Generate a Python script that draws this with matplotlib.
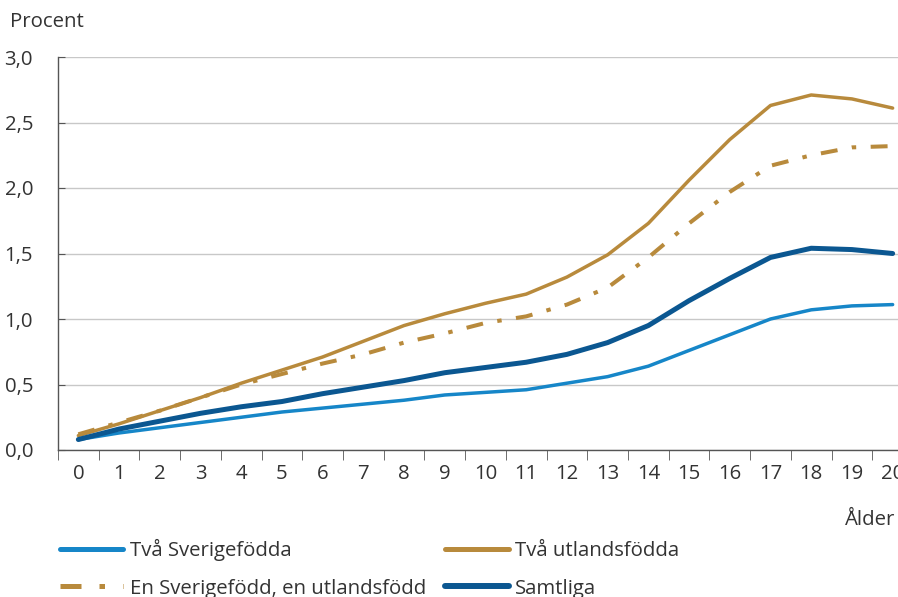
import numpy as np
from matplotlib import pyplot as plt
from matplotlib.ticker import FixedLocator, MultipleLocator, FuncFormatter

plt.rcParams["font.family"] = ["Open Sans", "DejaVu Sans"]
plt.rcParams["font.size"] = 14.7

alder = list(range(21))
tva_sverigefodda = [0.08, 0.13, 0.17, 0.21, 0.25, 0.29, 0.32, 0.35, 0.38, 0.42, 0.44,
                    0.46, 0.51, 0.56, 0.64, 0.76, 0.88, 1.00, 1.07, 1.10, 1.11]
tva_utlandsfodda = [0.11, 0.20, 0.30, 0.40, 0.51, 0.61, 0.71, 0.83, 0.95, 1.04, 1.12,
                    1.19, 1.32, 1.49, 1.73, 2.06, 2.37, 2.63, 2.71, 2.68, 2.61]
en_sverigefodd = [0.12, 0.21, 0.30, 0.40, 0.50, 0.58, 0.66, 0.73, 0.82, 0.89, 0.97,
                  1.02, 1.11, 1.24, 1.47, 1.73, 1.97, 2.17, 2.25, 2.31, 2.32]
samtliga = [0.08, 0.16, 0.22, 0.28, 0.33, 0.37, 0.43, 0.48, 0.53, 0.59, 0.63,
            0.67, 0.73, 0.82, 0.95, 1.14, 1.31, 1.47, 1.54, 1.53, 1.50]

ljusbla = "#1686c8"
guld = "#b88a3c"
morkbla = "#0b5791"
text_farg = "#333333"

fig = plt.figure(figsize=(8.98, 5.97), dpi=100)
# axeln går förbi bildens högerkant (som i originalet)
ax = fig.add_axes([58/898, 1-450/597, 855/898, 393/597])

ax.plot(alder, tva_sverigefodda, color=ljusbla, lw=2.5, solid_capstyle="round",
        label="Två Sverigefödda")
l2, = ax.plot(alder, en_sverigefodd, color=guld, lw=2.9, linestyle="-.",
              label="En Sverigefödd, en utlandsfödd")
l2.set_dashes((4.2, 3.6, 1.1, 3.6))
ax.plot(alder, tva_utlandsfodda, color=guld, lw=2.5, solid_capstyle="round",
        label="Två utlandsfödda")
ax.plot(alder, samtliga, color=morkbla, lw=3.6, solid_capstyle="round",
        label="Samtliga")

ax.set_xlim(-0.5, 20.5)
ax.set_ylim(0, 3.0)
ax.yaxis.set_major_locator(MultipleLocator(0.5))
ax.yaxis.set_major_formatter(FuncFormatter(lambda v, p: f"{v:.1f}".replace(".", ",")))
ax.grid(axis="y", color="#c8c8c8", lw=1)
ax.set_axisbelow(True)

ax.xaxis.set_major_locator(FixedLocator(alder))
ax.xaxis.set_minor_locator(FixedLocator(np.arange(-0.5, 21, 1)))
ax.tick_params(axis="x", which="major", length=0, pad=10, labelcolor=text_farg)
ax.tick_params(axis="x", which="minor", length=7, direction="out", color="#555555")
ax.tick_params(axis="y", which="major", length=5, direction="in", pad=18,
               color="#555555", labelcolor=text_farg)

for s in ["top", "right"]:
    ax.spines[s].set_visible(False)
for s in ["left", "bottom"]:
    ax.spines[s].set_color("#555555")
    ax.spines[s].set_linewidth(1)

fig.text(10/898, 1-22/597, "Procent", color=text_farg, va="center", ha="left")
fig.text(895/898, 1-520/597, "Ålder", color=text_farg, va="center", ha="right")

leg = fig.legend(loc="upper left", bbox_to_anchor=(52/898, 1-531/597), ncol=2,
                 frameon=False, handlelength=3.1, handletextpad=0.3,
                 columnspacing=0.95, labelspacing=0.85, labelcolor=text_farg,
                 borderaxespad=0)
for h, w in zip(leg.get_lines(), [3.6, 3.6, 3.6, 4.3]):
    h.set_linewidth(w)
    h.set_solid_capstyle("round")

fig.savefig("out.png", dpi=100)
